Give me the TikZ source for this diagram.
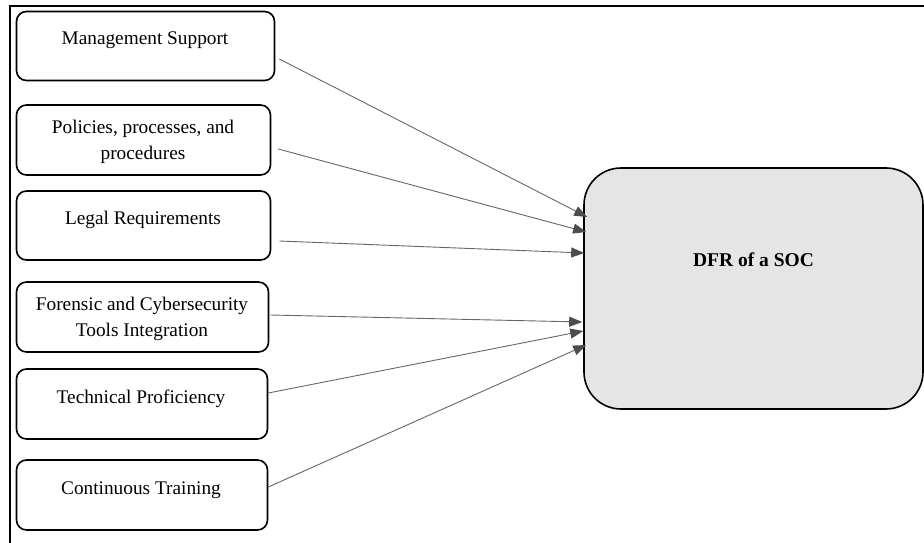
\documentclass[tikz,border=0pt]{standalone}
\usepackage{fontspec}
\setmainfont{Liberation Serif}
\usetikzlibrary{arrows.meta}
\begin{document}
\begin{tikzpicture}[x=1pt,y=-1pt,
  factor/.style={draw=black, line width=1.6pt, rounded corners=10pt, fill=white, inner sep=0pt},
  lbl/.style={font=\fontsize{19.3}{26}\selectfont, align=center, inner sep=0pt},
  conn/.style={draw=black!60, line width=0.9pt, -{Triangle[length=13pt,width=10pt,color=black!70]}},
  target/.style={draw=black, line width=1.6pt, rounded corners=37pt, fill=black!10, inner sep=0pt}]
\useasboundingbox (0,0) rectangle (924,543);
% outer frame (top and left)
\draw[line width=1.6pt] (10,543) -- (10,6) -- (924,6);
% factor boxes
\node[factor, minimum width=258pt, minimum height=69pt] (b1) at (145.5,46) {};
\node[factor, minimum width=254pt, minimum height=70pt] (b2) at (143.5,140) {};
\node[factor, minimum width=254pt, minimum height=69pt] (b3) at (143.5,225.5) {};
\node[factor, minimum width=252pt, minimum height=70pt] (b4) at (142.5,317) {};
\node[factor, minimum width=251pt, minimum height=70pt] (b5) at (142,404) {};
\node[factor, minimum width=251pt, minimum height=70pt] (b6) at (142,495) {};
% labels
\node[lbl, anchor=base] (t1) at (145,45) {Management Support};
\node[lbl, anchor=base] (t2) at (143,159) {Policies, processes, and\\procedures};
\node[lbl, anchor=base] (t3) at (143,224) {Legal Requirements};
\node[lbl, anchor=base] (t4) at (142,336) {Forensic and Cybersecurity\\Tools Integration};
\node[lbl, anchor=base] (t5) at (141,403) {Technical Proficiency};
\node[lbl, anchor=base] (t6) at (141,494) {Continuous Training};
% target
\node[target, minimum width=339pt, minimum height=241pt] (dfr) at (753.5,288.5) {};
\node[lbl, font=\fontsize{19.5}{26}\selectfont\bfseries, anchor=base] (td) at (753.5,266) {DFR of a SOC};
% connectors
\draw[conn] ([shift={(4,13)}]b1.east) -- ([shift={(4,-71.5)}]dfr.west);
\draw[conn] ([shift={(7,9)}]b2.east) -- ([shift={(3,-56.5)}]dfr.west);
\draw[conn] ([shift={(8,15.5)}]b3.east) -- ([shift={(1,-35.5)}]dfr.west);
\draw[conn] ([shift={(1,-2)}]b4.east) -- ([shift={(-1,33.5)}]dfr.west);
\draw[conn] ([shift={(0,-11)}]b5.east) -- ([shift={(0,42.5)}]dfr.west);
\draw[conn] ([shift={(0,-8)}]b6.east) -- ([shift={(3,56.5)}]dfr.west);
\end{tikzpicture}
\end{document}
